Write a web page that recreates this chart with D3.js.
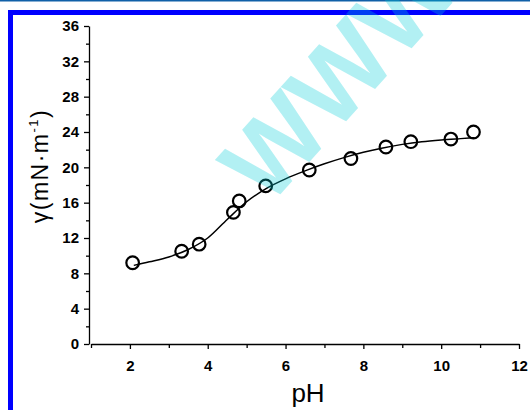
<!DOCTYPE html>
<html>
<head>
<meta charset="utf-8">
<script src="https://cdn.jsdelivr.net/npm/d3@7"></script>
<style>
  body { margin: 0; background: #fff; }
  svg { display: block; }
  .tick text { font-family: Arial, "Liberation Sans", sans-serif; font-weight: bold; font-size: 15px; fill: #000; }
</style>
</head>
<body>
<svg width="530" height="410"></svg>
<script>
"use strict";

// measured points
const pointPH = [2.07, 3.33, 3.78, 4.66, 4.81, 5.49, 6.61, 7.68, 8.58, 9.22, 10.25, 10.83];
const pointGamma = [9.2, 10.5, 11.3, 14.9, 16.2, 17.9, 19.7, 21.0, 22.3, 22.9, 23.2, 24.0];

// fitted curve
const fitPH = [2.1, 2.5, 3.0, 3.5, 4.0, 4.5, 5.0, 5.5, 6.0, 6.5, 7.0, 7.5, 8.0, 8.5, 9.0, 9.5, 10.0, 10.5, 10.85];
const fitGamma = [8.9, 9.3, 9.85, 10.7, 12.0, 14.1, 16.1, 17.6, 18.7, 19.6, 20.4, 21.1, 21.7, 22.2, 22.6, 22.9, 23.1, 23.25, 23.35];

const xMajor = [2, 4, 6, 8, 10, 12];
const xMinor = [1, 3, 5, 7, 9, 11];
const yMajor = [0, 4, 8, 12, 16, 20, 24, 28, 32, 36];
const yMinor = [2, 6, 10, 14, 18, 22, 26, 30, 34];

const svg = d3.select('svg');

const x = d3.scaleLinear().domain([1, 12]).range([91, 519]);
const y = d3.scaleLinear().domain([0, 36]).range([344, 26]);

// frame decoration
svg.append('rect').attr('x', 0).attr('y', 0).attr('width', 530).attr('height', 1.5).attr('fill', '#1060a8');
svg.append('rect').attr('x', 8).attr('y', 10).attr('width', 522).attr('height', 5).attr('fill', '#0000ff');
svg.append('rect').attr('x', 8).attr('y', 10).attr('width', 5).attr('height', 400).attr('fill', '#0000ff');

// axes
svg.append('g')
    .attr('transform', 'translate(0,344)')
    .call(d3.axisBottom(x).tickValues(xMinor).tickSize(4).tickFormat(''))
    .call(g => g.select('.domain').remove());
svg.append('g')
    .attr('transform', 'translate(0,344)')
    .call(d3.axisBottom(x).tickValues(xMajor).tickSize(5).tickPadding(11).tickSizeOuter(0));

svg.append('g')
    .attr('transform', 'translate(89,0)')
    .call(d3.axisLeft(y).tickValues(yMinor).tickSize(3).tickFormat(''))
    .call(g => g.select('.domain').remove());
svg.append('g')
    .attr('transform', 'translate(89,0)')
    .call(d3.axisLeft(y).tickValues(yMajor).tickSize(5).tickPadding(5).tickSizeOuter(0));

svg.selectAll('.domain, .tick line').attr('stroke', '#000').attr('stroke-width', 1.3);

// axis titles
svg.append('text')
    .attr('x', 308).attr('y', 402)
    .attr('text-anchor', 'middle')
    .attr('font-family', 'Arial, "Liberation Sans", sans-serif')
    .attr('font-size', 26)
    .text('pH');

const yt = svg.append('text')
    .attr('transform', 'translate(48,166) rotate(-90)')
    .attr('text-anchor', 'middle')
    .attr('font-family', 'Arial, "Liberation Sans", sans-serif')
    .attr('font-size', 23)
    .attr('letter-spacing', 1.5);
yt.append('tspan').text('γ(mN·m');
yt.append('tspan').attr('dy', -10).attr('font-size', 13).text('-1');
yt.append('tspan').attr('dy', 10).text(')');

// fitted line
const fit = fitPH.map((p, i) => ({ph: p, g: fitGamma[i]}));
svg.append('path')
    .datum(fit)
    .attr('fill', 'none')
    .attr('stroke', '#000')
    .attr('stroke-width', 1.5)
    .attr('d', d3.line().x(d => x(d.ph)).y(d => y(d.g)).curve(d3.curveMonotoneX));

// points
const pts = pointPH.map((p, i) => ({ph: p, g: pointGamma[i]}));
svg.selectAll('.dot')
    .data(pts)
    .enter().append('circle')
    .attr('class', 'dot')
    .attr('cx', d => x(d.ph))
    .attr('cy', d => y(d.g))
    .attr('r', 6.3)
    .attr('fill', 'none')
    .attr('stroke', '#000')
    .attr('stroke-width', 2.2);

// watermark
svg.append('text')
    .attr('transform', 'translate(268,208) rotate(-48)')
    .attr('font-family', 'Arial, "Liberation Sans", sans-serif')
    .attr('font-weight', 'bold')
    .attr('font-size', 104)
    .attr('fill', 'rgb(0,205,215)')
    .attr('fill-opacity', 0.3)
    .text('WWW');
</script>
</body>
</html>
